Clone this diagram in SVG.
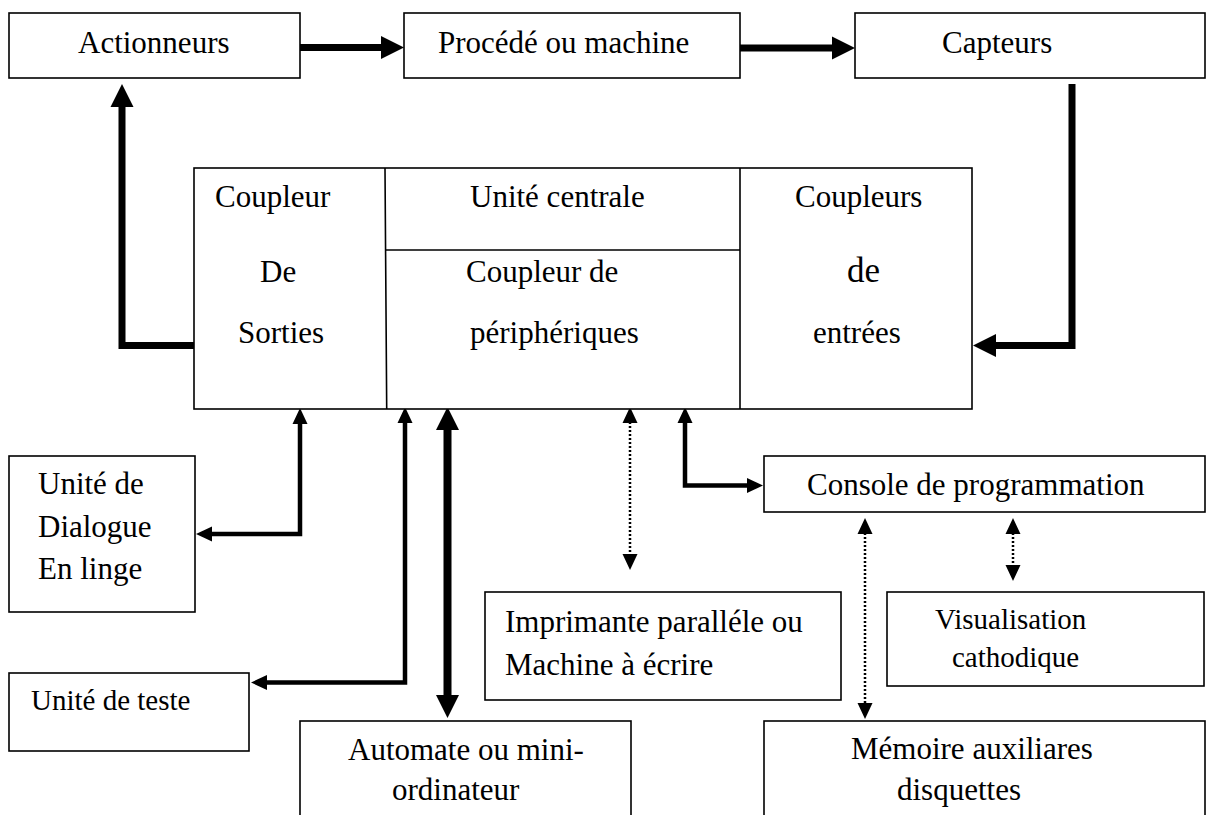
<svg xmlns="http://www.w3.org/2000/svg" width="1206" height="815" viewBox="0 0 1206 815">
  <style>
    .box { fill: #fff; stroke: #000; stroke-width: 1.6; }
    .sep { fill: none; stroke: #000; stroke-width: 1.6; }
    text { font-family: "Liberation Serif", "Times New Roman", serif; font-size: 31px; fill: #000; }
    .sm { font-size: 29px; }
    .lg { font-size: 35px; }
    .thick { fill: none; stroke: #000; stroke-width: 7; }
    .heavy { fill: none; stroke: #000; stroke-width: 8; }
    .thin { fill: none; stroke: #000; stroke-width: 4.5; }
    .dot { fill: none; stroke: #000; stroke-width: 2.5; stroke-dasharray: 2 2; }
  </style>
  <defs>
    <marker id="hL" markerUnits="userSpaceOnUse" markerWidth="30" markerHeight="30" refX="0" refY="0" viewBox="-1 -15 30 30" orient="auto-start-reverse" overflow="visible">
      <path d="M-1,-11.5 L22,0 L-1,11.5 Z" fill="#000"/>
    </marker>
    <marker id="hS" markerUnits="userSpaceOnUse" markerWidth="20" markerHeight="20" refX="0" refY="0" viewBox="-1 -10 20 20" orient="auto-start-reverse" overflow="visible">
      <path d="M-1,-7.5 L15,0 L-1,7.5 Z" fill="#000"/>
    </marker>
  </defs>

  <rect width="1206" height="815" fill="#fff"/>

  <!-- connectors -->
  <g id="connectors">
    <path class="thick" d="M300,47.5 H382" marker-end="url(#hL)"/>
    <path class="thick" d="M740,48 H833" marker-end="url(#hL)"/>
    <path class="thick" d="M198,345.5 H122 V106" marker-end="url(#hL)"/>
    <path class="thick" d="M1072,84 V345.5 H995" marker-end="url(#hL)"/>
    <path class="thin" d="M211,534 H300 V423" marker-start="url(#hS)" marker-end="url(#hS)"/>
    <path class="thin" d="M266,682.5 H405 V422" marker-start="url(#hS)" marker-end="url(#hS)"/>
    <path class="heavy" d="M447.5,429 V696" marker-start="url(#hL)" marker-end="url(#hL)"/>
    <path class="dot" d="M630,422 V555" marker-start="url(#hS)" marker-end="url(#hS)"/>
    <path class="thin" d="M685,422 V485.5 H748" marker-start="url(#hS)" marker-end="url(#hS)"/>
    <path class="dot" d="M865,533 V704" marker-start="url(#hS)" marker-end="url(#hS)"/>
    <path class="dot" d="M1013,533 V566" marker-start="url(#hS)" marker-end="url(#hS)"/>
  </g>

  <!-- top row -->
  <g id="actionneurs">
    <rect class="box" x="9" y="13" width="291" height="65"/>
    <text x="78" y="53">Actionneurs</text>
  </g>
  <g id="procede">
    <rect class="box" x="404" y="13" width="336" height="65"/>
    <text x="438" y="53">Procédé ou machine</text>
  </g>
  <g id="capteurs">
    <rect class="box" x="855" y="13" width="350" height="65"/>
    <text x="942" y="53">Capteurs</text>
  </g>

  <!-- central unit with its couplers -->
  <g id="automate-central">
    <rect class="box" x="194" y="168" width="778" height="241"/>
    <path class="sep" d="M385,168 L386.7,409 M386,250 H740 M740,168 V409"/>
    <text x="215" y="207">Coupleur</text>
    <text x="260" y="282">De</text>
    <text x="238" y="343">Sorties</text>
    <text x="470" y="207">Unité centrale</text>
    <text x="466" y="282">Coupleur de</text>
    <text x="470" y="343">périphériques</text>
    <text x="795" y="207">Coupleurs</text>
    <text class="lg" x="847" y="282">de</text>
    <text x="813" y="343">entrées</text>
  </g>

  <!-- peripherals -->
  <g id="dialogue">
    <rect class="box" x="9" y="456" width="186" height="156"/>
    <text x="38" y="494">Unité de</text>
    <text x="38" y="537">Dialogue</text>
    <text x="38" y="579">En linge</text>
  </g>
  <g id="teste">
    <rect class="box" x="9" y="673" width="240" height="78"/>
    <text class="sm" x="31" y="710">Unité de teste</text>
  </g>
  <g id="mini-ordinateur">
    <rect class="box" x="300" y="721" width="331" height="110"/>
    <text x="348" y="760">Automate ou mini-</text>
    <text x="392" y="800">ordinateur</text>
  </g>
  <g id="imprimante">
    <rect class="box" x="485" y="592" width="356" height="108"/>
    <text x="505" y="632">Imprimante paralléle ou</text>
    <text x="505" y="675">Machine à écrire</text>
  </g>
  <g id="console">
    <rect class="box" x="764" y="456" width="441" height="56"/>
    <text x="807" y="495">Console de programmation</text>
  </g>
  <g id="visualisation">
    <rect class="box" x="887" y="592" width="317" height="94"/>
    <text class="sm" x="935" y="629">Visualisation</text>
    <text class="sm" x="952" y="667">cathodique</text>
  </g>
  <g id="memoire">
    <rect class="box" x="764" y="721" width="441" height="110"/>
    <text x="851" y="759">Mémoire auxiliares</text>
    <text x="897" y="800">disquettes</text>
  </g>
</svg>
